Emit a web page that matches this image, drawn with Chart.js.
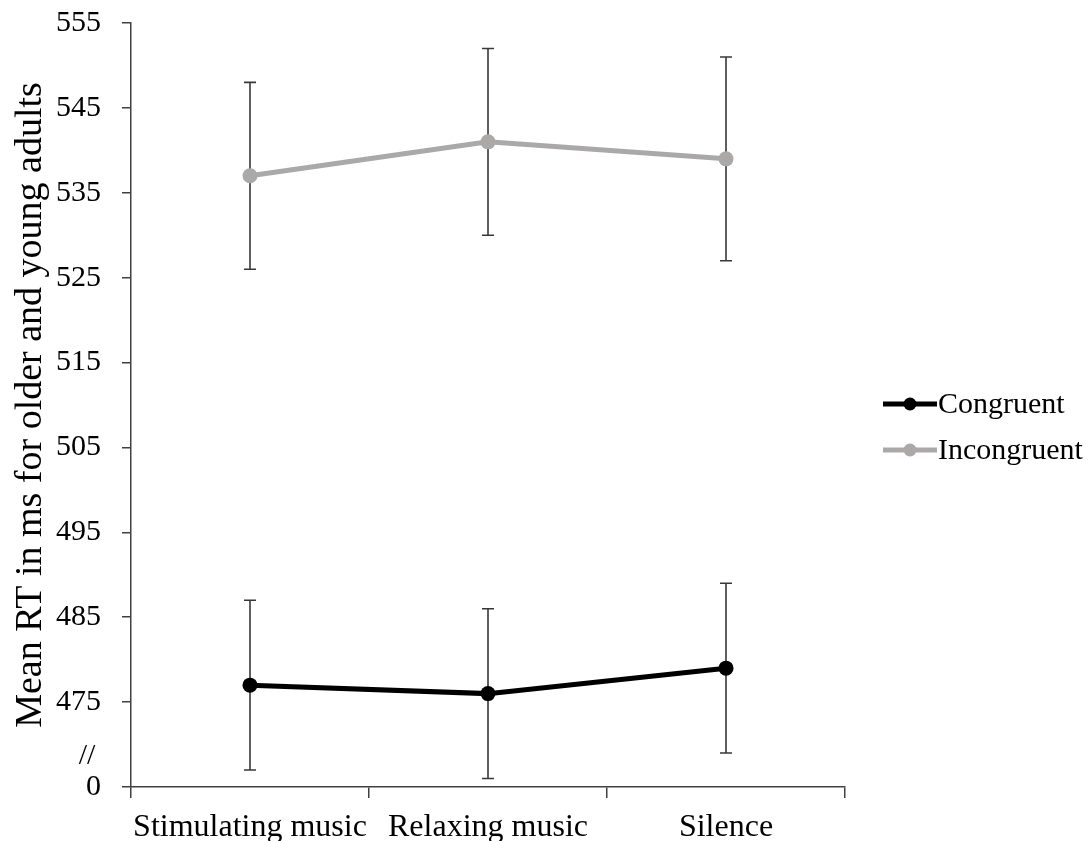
<!DOCTYPE html>
<html>
<head>
<meta charset="utf-8">
<script src="https://cdn.jsdelivr.net/npm/chart.js@4"></script>
<style>
  html, body { margin: 0; padding: 0; background: #fff; }
  #wrap { width: 1088px; height: 841px; }
</style>
</head>
<body>
<div id="wrap"><canvas id="c" width="1088" height="841"></canvas></div>
<script>
const categories = ['Stimulating music', 'Relaxing music', 'Silence'];
const seriesNames = ['Congruent', 'Incongruent'];
const congruent = [477, 476, 479];
const congruentErr = [10, 10, 10];
const incongruent = [537, 541, 539];
const incongruentErr = [11, 11, 12];
const yMin = 465;          // shown as "0" (axis break)
const yMax = 555;
const yStep = 10;
const breakMarkValue = 468.6;

const FONT = "'Liberation Serif', 'Times New Roman', serif";
const errs = [congruentErr, incongruentErr];

const errorBars = {
  id: 'errorBars',
  beforeDatasetsDraw(chart) {
    const ctx = chart.ctx;
    const y = chart.scales.y;
    ctx.save();
    ctx.strokeStyle = '#383838';
    ctx.lineWidth = 1.6;
    chart.data.datasets.forEach((ds, di) => {
      const meta = chart.getDatasetMeta(di);
      meta.data.forEach((pt, i) => {
        const v = ds.data[i], e = errs[di][i];
        const yt = y.getPixelForValue(v + e), yb = y.getPixelForValue(v - e);
        const x = pt.x;
        ctx.beginPath();
        ctx.moveTo(x, yt); ctx.lineTo(x, yb);
        ctx.moveTo(x - 6, yt); ctx.lineTo(x + 6, yt);
        ctx.moveTo(x - 6, yb); ctx.lineTo(x + 6, yb);
        ctx.stroke();
      });
    });
    ctx.restore();
  }
};

const extras = {
  id: 'extras',
  afterDraw(chart) {
    const ctx = chart.ctx;
    const ca = chart.chartArea;
    const y = chart.scales.y;
    ctx.save();
    // axis break mark
    ctx.fillStyle = '#000';
    ctx.font = '30px ' + FONT;
    ctx.textAlign = 'center';
    ctx.textBaseline = 'middle';
    ctx.fillText('//', ca.left - 44, y.getPixelForValue(breakMarkValue));
    // legend
    const lx = ca.right + 38;
    const rows = [404, 450];
    chart.data.datasets.forEach((ds, i) => {
      const yy = rows[i];
      ctx.strokeStyle = ds.borderColor;
      ctx.lineWidth = ds.borderWidth;
      ctx.beginPath();
      ctx.moveTo(lx, yy); ctx.lineTo(lx + 54, yy);
      ctx.stroke();
      ctx.fillStyle = ds.backgroundColor;
      ctx.beginPath();
      ctx.arc(lx + 27, yy, 6.5, 0, Math.PI * 2);
      ctx.fill();
      ctx.fillStyle = '#000';
      ctx.font = '30px ' + FONT;
      ctx.textAlign = 'left';
      ctx.textBaseline = 'middle';
      ctx.fillText(ds.label, lx + 55, yy + 1);
    });
    ctx.restore();
  }
};

new Chart(document.getElementById('c'), {
  type: 'line',
  data: {
    labels: categories,
    datasets: [
      {
        label: seriesNames[0],
        data: congruent,
        borderColor: '#000000',
        backgroundColor: '#000000',
        borderWidth: 5,
        pointRadius: 7.5,
        pointBorderWidth: 0,
        pointBackgroundColor: '#000000'
      },
      {
        label: seriesNames[1],
        data: incongruent,
        borderColor: '#ABA8A8',
        backgroundColor: '#ABA8A8',
        borderWidth: 5,
        pointRadius: 7.5,
        pointBorderWidth: 0,
        pointBackgroundColor: '#ABA8A8'
      }
    ]
  },
  options: {
    responsive: false,
    animation: false,
    layout: { autoPadding: false, padding: { left: 0, right: 243, top: 23, bottom: 0 } },
    plugins: { legend: { display: false }, tooltip: { enabled: false } },
    scales: {
      x: {
        type: 'category',
        offset: true,
        border: { color: '#404040', width: 1.5 },
        grid: { offset: true, drawOnChartArea: false, tickLength: 11, color: '#404040', lineWidth: 1.5 },
        ticks: { color: '#000', padding: 10, maxRotation: 0, autoSkip: false, font: { family: FONT, size: 32 } },
        afterFit: s => { s.height = 54; s.paddingLeft = 0; s.paddingRight = 0; s.paddingTop = 0; s.paddingBottom = 0; }
      },
      y: {
        min: yMin,
        max: yMax,
        border: { color: '#404040', width: 1.5 },
        grid: { drawOnChartArea: false, tickLength: 9, color: '#404040', lineWidth: 1.5 },
        ticks: {
          stepSize: yStep,
          padding: 21,
          color: '#000',
          font: { family: FONT, size: 30 },
          callback: v => (v === yMin ? '0' : v)
        },
        title: {
          display: true,
          text: 'Mean RT in ms for older and young adults',
          color: '#000',
          font: { family: FONT, size: 38 },
          padding: { top: 8, bottom: 0 }
        },
        afterFit: s => { s.width = 131; s.paddingTop = 0; s.paddingBottom = 0; s.paddingLeft = 0; s.paddingRight = 0; }
      }
    }
  },
  plugins: [errorBars, extras]
});
</script>
</body>
</html>
